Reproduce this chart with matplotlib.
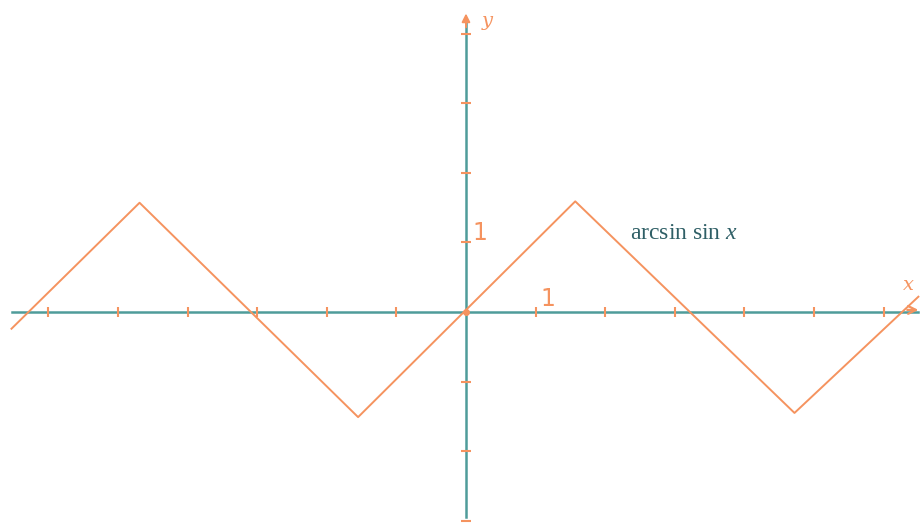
import matplotlib.pyplot as plt

# corner points of the arcsin(sin x) zigzag
wave_x = [-6.53, -4.69, -1.55, 1.57, 4.72, 6.50]
wave_y = [-0.24, 1.57, -1.51, 1.59, -1.45, 0.22]

x_ticks = [-6, -5, -4, -3, -2, -1, 1, 2, 3, 4, 5, 6]
y_ticks = [-3, -2, -1, 1, 2, 3, 4]

axis_col = '#4f9c9a'
curve_col = '#f5935f'

plt.rcParams['mathtext.fontset'] = 'custom'
plt.rcParams['mathtext.rm'] = 'Liberation Serif'
plt.rcParams['mathtext.it'] = 'Liberation Serif:italic'

fig = plt.figure(figsize=(9.22, 5.25), dpi=100)
ax = fig.add_axes([0, 0, 1, 1])
ax.set_xlim(-6.695, 6.552)
ax.set_ylim(-3.06, 4.483)
ax.axis('off')

# axes lines
ax.plot([-6.52, 6.50], [0, 0], color=axis_col, lw=1.8, zorder=1)
ax.plot([0, 0], [-2.95, 4.20], color=axis_col, lw=1.8, zorder=1)

# arrowheads
ax.annotate('', xy=(6.54, 0.03), xytext=(6.30, 0.03), annotation_clip=False,
            arrowprops=dict(arrowstyle='->', color=curve_col, lw=1.6,
                            mutation_scale=14), zorder=3)
ax.annotate('', xy=(0, 4.33), xytext=(0, 4.05), annotation_clip=False,
            arrowprops=dict(arrowstyle='-|>', color=curve_col, lw=1.4,
                            mutation_scale=12), zorder=3)

# tick marks
ax.plot(x_ticks, [0] * len(x_ticks), linestyle='none', marker='|',
        color=curve_col, ms=7, mew=1.5, zorder=2)
ax.plot([0] * len(y_ticks), y_ticks, linestyle='none', marker='_',
        color=curve_col, ms=7, mew=1.5, zorder=2)

# the curve
ax.plot(wave_x, wave_y, color=curve_col, lw=1.4, zorder=2)
ax.plot([0], [0], marker='o', color=curve_col, ms=4, zorder=3)

# labels
ax.text(1.07, 0.02, '1', color=curve_col, fontsize=17, family='DejaVu Sans',
        ha='left', va='bottom')
ax.text(0.10, 0.97, '1', color=curve_col, fontsize=17, family='DejaVu Sans',
        ha='left', va='bottom')
ax.text(6.28, 0.26, 'x', color=curve_col, fontsize=14, family='DejaVu Serif',
        style='italic', ha='left', va='bottom')
ax.text(0.22, 4.05, 'y', color=curve_col, fontsize=14, family='DejaVu Serif',
        style='italic', ha='left', va='bottom')
ax.text(2.36, 1.05, r'$\mathrm{arcsin\ sin}\ x$', color='#2f5f66',
        fontsize=17, ha='left', va='baseline')

fig.savefig('out.png', dpi=100, facecolor='white')
